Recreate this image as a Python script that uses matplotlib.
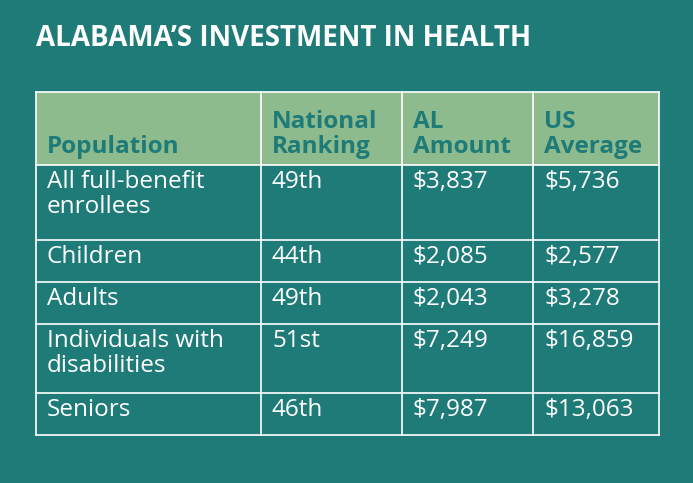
import matplotlib
matplotlib.use("Agg")
import matplotlib.pyplot as plt
from matplotlib.patches import Rectangle

title = "ALABAMA’S INVESTMENT IN HEALTH"
headers = ["Population", "National\nRanking", "AL\nAmount", "US\nAverage"]
populations = ["All full-benefit\nenrollees", "Children", "Adults", "Individuals with\ndisabilities", "Seniors"]
rankings = ["49th", "44th", "49th", "51st", "46th"]
al_amounts = ["$3,837", "$2,085", "$2,043", "$7,249", "$7,987"]
us_averages = ["$5,736", "$2,577", "$3,278", "$16,859", "$13,063"]

BG = "#1e7b78"
HEAD = "#8dbb8e"
plt.rcParams['font.family'] = ['Open Sans', 'DejaVu Sans']

fig = plt.figure(figsize=(6.93, 4.83), dpi=100)
fig.patch.set_facecolor(BG)
ax = fig.add_axes([0, 0, 1, 1])
ax.set_xlim(0, 693); ax.set_ylim(483, 0); ax.axis("off")

ax.text(36, 39, title, color="white", fontsize=20, fontweight="bold", va="center", ha="left")

cols = [36, 261, 402, 533, 659]
rows = [92, 165, 240, 282, 324, 393, 435]
ax.add_patch(Rectangle((cols[0], rows[0]), cols[-1]-cols[0], rows[1]-rows[0], facecolor=HEAD, edgecolor="none"))
for x in cols:
    ax.plot([x, x], [rows[0], rows[-1]], color="white", lw=1.2)
for y in rows:
    ax.plot([cols[0], cols[-1]], [y, y], color="white", lw=1.2)

pad = 11
for j, h in enumerate(headers):
    ax.text(cols[j]+pad, rows[1]-6, h, color=BG, fontsize=17.5, fontweight="bold",
            va="bottom", ha="left", linespacing=1.05)

data = list(zip(populations, rankings, al_amounts, us_averages))
for i, r in enumerate(data):
    for j, v in enumerate(r):
        ax.text(cols[j]+pad, rows[i+1]+5, v, color="white", fontsize=17.5,
                va="top", ha="left", linespacing=1.05)

fig.savefig("out.png", dpi=100, facecolor=BG)
